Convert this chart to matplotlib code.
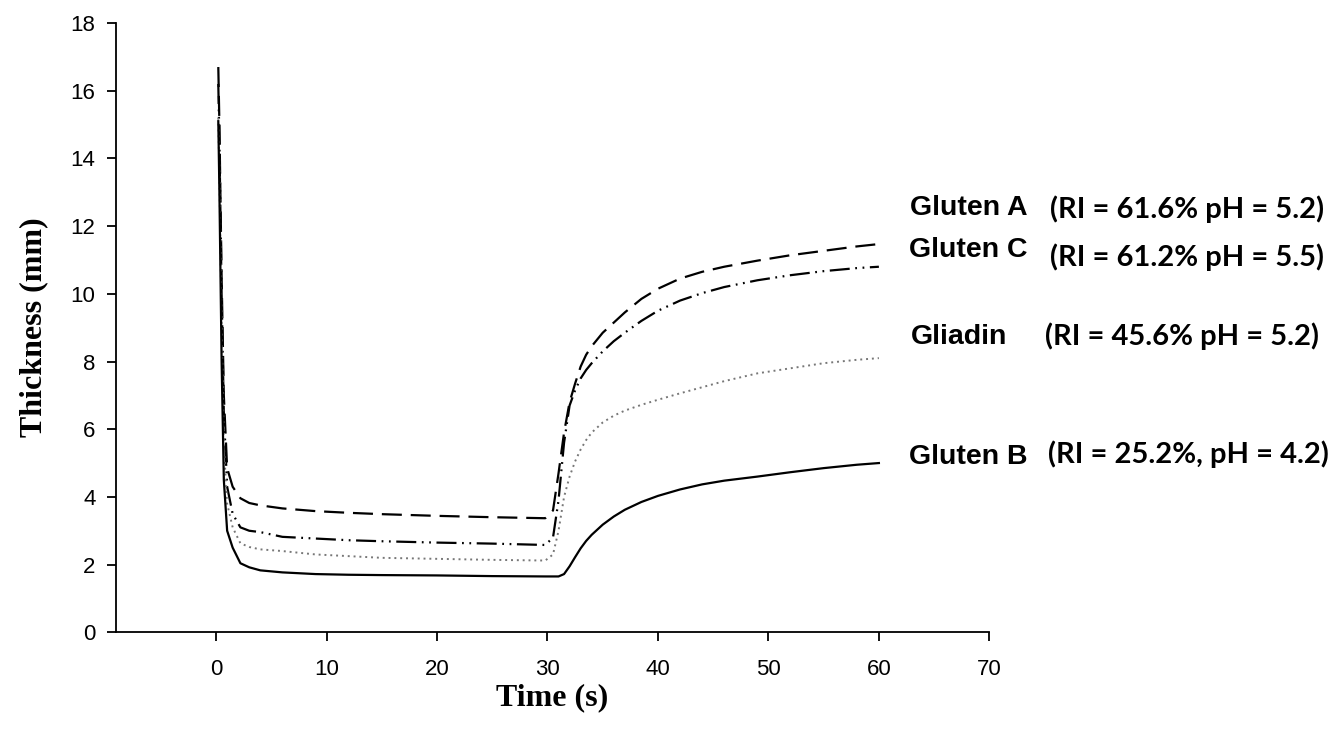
import matplotlib
matplotlib.use("Agg")
import matplotlib.pyplot as plt

# time axis (s) shared by all four curves
time = [0.2, 0.3, 0.5, 0.7, 1.0, 1.5, 2.2, 3, 4, 6, 9, 12, 15, 20, 25, 29.8,
        30.5, 31.0, 31.5, 32, 32.5, 33, 33.5, 34, 35, 36, 37, 38.5, 40, 42, 44,
        46, 49, 52, 55, 58, 60]

gluten_a = [16.7, 15.0, 10.5, 7.0, 4.85, 4.3, 3.96, 3.82, 3.75, 3.66, 3.58, 3.53,
            3.49, 3.44, 3.40, 3.37,
            3.6, 4.7, 5.9, 6.8, 7.35, 7.85, 8.2, 8.45, 8.85, 9.15, 9.45, 9.85,
            10.15, 10.45, 10.65, 10.8, 10.98, 11.14, 11.27, 11.4, 11.47]
gluten_c = [16.2, 14.5, 10.0, 6.5, 4.3, 3.5, 3.1, 3.0, 2.96, 2.82, 2.77, 2.72,
            2.69, 2.65, 2.62, 2.58,
            2.8, 3.9, 5.6, 6.7, 7.15, 7.5, 7.75, 7.95, 8.3, 8.6, 8.85, 9.2,
            9.5, 9.8, 10.02, 10.2, 10.4, 10.55, 10.67, 10.76, 10.8]
gliadin = [15.2, 13.5, 9.0, 5.5, 3.8, 3.1, 2.63, 2.52, 2.45, 2.4, 2.3, 2.25,
           2.2, 2.17, 2.14, 2.12,
           2.3, 3.0, 4.0, 4.6, 5.05, 5.4, 5.68, 5.9, 6.2, 6.4, 6.55, 6.72,
           6.87, 7.06, 7.24, 7.42, 7.65, 7.8, 7.95, 8.05, 8.1]
gluten_b = [15.1, 13.0, 8.0, 4.5, 3.0, 2.5, 2.04, 1.92, 1.83, 1.77, 1.72, 1.70,
            1.69, 1.68, 1.66, 1.65,
            1.65, 1.65, 1.72, 1.95, 2.22, 2.48, 2.7, 2.88, 3.18, 3.42, 3.62, 3.85,
            4.03, 4.22, 4.37, 4.48, 4.6, 4.73, 4.85, 4.95, 5.0]

names = ['Gluten A', 'Gluten C', 'Gliadin', 'Gluten B']
conditions = ['(RI = 61.6% pH = 5.2)', '(RI = 61.2% pH = 5.5)',
              '(RI = 45.6% pH = 5.2)', '(RI = 25.2%, pH = 4.2)']

fig = plt.figure(figsize=(13.33, 7.43), dpi=100)
ax = fig.add_axes([0.0867, 0.149, 0.6555, 0.82])

ax.plot(time, gluten_a, color='black', lw=1.6, dashes=(9, 4))
ax.plot(time, gluten_c, color='black', lw=1.6, dashes=(9, 2.5, 0.8, 2.5, 0.8, 2.5))
ax.plot(time, gliadin, color='#777777', lw=1.4, dashes=(1, 2))
ax.plot(time, gluten_b, color='black', lw=1.6)

ax.set_xlim(-9.1, 70)
ax.set_ylim(0, 18)
ax.set_xticks(range(0, 71, 10))
ax.set_yticks(range(0, 19, 2))
for s in ['top', 'right']:
    ax.spines[s].set_visible(False)
for s in ['left', 'bottom']:
    ax.spines[s].set_linewidth(1.3)
ax.tick_params(direction='out', length=6.5, width=1.3, labelsize=16)
for lab in ax.get_xticklabels() + ax.get_yticklabels():
    lab.set_family('Liberation Sans')
ax.tick_params(axis='x', pad=13)
ax.tick_params(axis='y', pad=8)

ax.set_xlabel('Time (s)', family='Liberation Serif', fontweight='bold', fontsize=23, labelpad=2)
ax.set_ylabel('Thickness (mm)', family='Liberation Serif', fontweight='bold', fontsize=23, labelpad=16)

# labels at the right of the curves
name_pos = [(62.8, 12.53), (62.7, 11.29), (62.9, 8.72), (62.7, 5.17)]
cond_pos = [(75.5, 12.5), (75.5, 11.08), (75.0, 8.75), (75.3, 5.26)]
for name, (x, y) in zip(names, name_pos):
    ax.text(x, y, name, family='Liberation Sans', fontweight='bold', fontsize=20.5,
            ha='left', va='center', clip_on=False)
for cond, (x, y) in zip(conditions, cond_pos):
    ax.text(x, y, cond, family='Lato', fontweight='bold', fontsize=21,
            ha='left', va='center', clip_on=False)

fig.savefig('out.png', dpi=100)
